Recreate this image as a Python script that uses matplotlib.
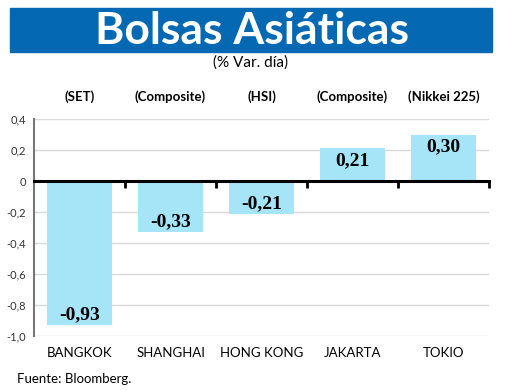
import numpy as np
import matplotlib
matplotlib.use("Agg")
import matplotlib.pyplot as plt
from matplotlib.patches import Rectangle
from matplotlib.transforms import blended_transform_factory

ciudades = ["BANGKOK", "SHANGHAI", "HONG KONG", "JAKARTA", "TOKIO"]
indices = ["(SET)", "(Composite)", "(HSI)", "(Composite)", "(Nikkei 225)"]
variacion = [-0.93, -0.33, -0.21, 0.21, 0.30]
yticks = [0.4, 0.2, 0, -0.2, -0.4, -0.6, -0.8, -1.0]

azul = "#0568b3"
celeste = "#a6e4f8"

fig = plt.figure(figsize=(5.2, 3.9), dpi=100)
fig.patch.set_facecolor("white")

# banda del titulo
fig.patches.append(Rectangle((10/520, 1-52/390), 482/520, 44/390,
                             transform=fig.transFigure, color=azul, zorder=0))
fig.text(252/520, 1-31/390, "Bolsas Asiáticas", color="white", ha="center",
         va="center", fontsize=32, fontweight="bold", family="Lato")
fig.text(251/520, 1-63/390, "(% Var. día)", ha="center", va="center",
         fontsize=11, family="Lato")
fig.text(17/520, 1-379/390, "Fuente: Bloomberg.", ha="left", va="center",
         fontsize=9.5, family="Lato")

ax = fig.add_axes([34/520, 1-336/390, 455/520, 217/390])
x = np.arange(len(ciudades))
ax.bar(x, variacion, width=0.72, color=celeste, zorder=2)
ax.set_xlim(-0.5, len(ciudades)-0.5)
ax.set_ylim(-1.0, 0.4)

ax.set_yticks(yticks)
ax.set_yticklabels([("%.1f" % v).replace(".", ",") if v != 0 else "0" for v in yticks],
                   fontsize=8, color="#333333", family="Lato")
ax.tick_params(axis="y", length=0, pad=6)
ax.grid(axis="y", color="#d9d9d9", lw=1, zorder=0)

for s in ["top", "right"]:
    ax.spines[s].set_visible(False)
ax.spines["left"].set_color("#777777")
ax.spines["left"].set_linewidth(1.5)
ax.spines["bottom"].set_position(("data", 0))
ax.spines["bottom"].set_linewidth(2.2)
ax.spines["bottom"].set_zorder(3)
ax.set_xticks(np.arange(len(ciudades)) + 0.5)
ax.set_xticklabels([])
ax.tick_params(axis="x", direction="out", length=5, width=2)

tr = blended_transform_factory(ax.transData, fig.transFigure)
for i, (c, idx, v) in enumerate(zip(ciudades, indices, variacion)):
    ax.text(i, 1-353/390, c, transform=tr, ha="center", va="center",
            fontsize=9.5, family="Lato")
    ax.text(i, 1-97/390, idx, transform=tr, ha="center", va="center",
            fontsize=9.5, fontweight="bold", family="Lato")
    lab = ("%.2f" % v).replace(".", ",")
    if v < 0:
        ax.text(i, v + 0.01, lab, ha="center", va="bottom", fontsize=14,
                fontweight="bold", family="Liberation Serif", zorder=4)
    else:
        ax.text(i, v - 0.025, lab, ha="center", va="top", fontsize=14,
                fontweight="bold", family="Liberation Serif", zorder=4)

fig.savefig("out.png", dpi=100)
